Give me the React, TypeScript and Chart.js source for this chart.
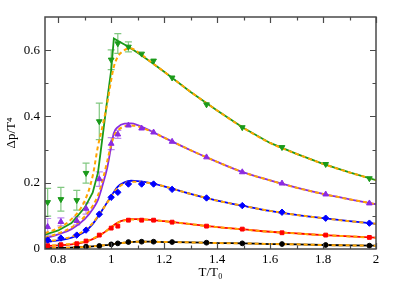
import React, { useEffect, useRef } from "react";
import { Chart, registerables } from "chart.js";

Chart.register(...registerables);

// ---- data ----
const tPoints = [0.76, 0.81, 0.87, 0.905, 0.955, 1.0, 1.025, 1.065, 1.115, 1.16, 1.23, 1.36, 1.495, 1.645, 1.81, 1.975];

const greenPts = [0.141, 0.150, 0.147, 0.229, 0.385, 0.571, 0.620, 0.610, 0.589, 0.568, 0.517, 0.436, 0.367, 0.307, 0.256, 0.213];
const greenErr = [0.042, 0.036, 0.030, 0.030, 0.055, 0.030, 0.030, 0.015, 0.007, 0.005, 0.005, 0.004, 0.004, 0.004, 0.004, 0.004];
const purplePts = [0.067, 0.082, 0.085, 0.122, 0.211, 0.318, 0.346, 0.373, 0.364, 0.352, 0.324, 0.277, 0.232, 0.198, 0.165, 0.138];
const purpleErr = [0.025, 0.012, 0.012, 0.017, 0.022, 0.018, 0.012, 0.006, 0.004, 0.004, 0.003, 0.003, 0.003, 0.003, 0.003, 0.003];
const bluePts = [0.027, 0.033, 0.042, 0.057, 0.105, 0.156, 0.171, 0.196, 0.196, 0.196, 0.180, 0.154, 0.131, 0.111, 0.093, 0.078];
const redPts = [0.010, 0.013, 0.016, 0.024, 0.042, 0.063, 0.069, 0.087, 0.087, 0.087, 0.081, 0.069, 0.060, 0.049, 0.042, 0.035];
const blackPts = [0.003, 0.003, 0.004, 0.007, 0.009, 0.014, 0.017, 0.021, 0.022, 0.022, 0.021, 0.019, 0.017, 0.015, 0.012, 0.010];

const tCurve = [0.75, 0.8, 0.85, 0.9, 0.93, 0.95, 0.97, 0.985, 1.0, 1.01, 1.025, 1.05, 1.075, 1.1, 1.15, 1.2, 1.3, 1.4, 1.5, 1.6, 1.7, 1.8, 1.9, 2.0];

const greenFit = [0.043, 0.056, 0.078, 0.125, 0.17, 0.23, 0.355, 0.45, 0.54, 0.635, 0.628, 0.617, 0.605, 0.592, 0.564, 0.535, 0.474, 0.418, 0.365, 0.32, 0.287, 0.257, 0.231, 0.208];
const greenModel = [0.048, 0.063, 0.09, 0.145, 0.22, 0.31, 0.38, 0.44, 0.51, 0.55, 0.58, 0.60, 0.605, 0.595, 0.564, 0.535, 0.474, 0.418, 0.365, 0.32, 0.287, 0.257, 0.231, 0.208];
const purpleFit = [0.032, 0.044, 0.06, 0.09, 0.12, 0.148, 0.2, 0.245, 0.31, 0.35, 0.368, 0.378, 0.379, 0.374, 0.356, 0.336, 0.298, 0.263, 0.231, 0.207, 0.185, 0.166, 0.15, 0.135];
const purpleModel = [0.034, 0.047, 0.065, 0.098, 0.13, 0.162, 0.215, 0.265, 0.315, 0.34, 0.358, 0.37, 0.373, 0.37, 0.355, 0.336, 0.298, 0.263, 0.231, 0.207, 0.185, 0.166, 0.15, 0.135];
const blueFit = [0.021, 0.026, 0.034, 0.052, 0.075, 0.097, 0.122, 0.141, 0.16, 0.172, 0.188, 0.201, 0.206, 0.205, 0.199, 0.189, 0.166, 0.146, 0.13, 0.115, 0.103, 0.093, 0.084, 0.076];
const blueModel = [0.022, 0.028, 0.037, 0.056, 0.078, 0.099, 0.122, 0.14, 0.158, 0.17, 0.184, 0.198, 0.203, 0.203, 0.198, 0.189, 0.166, 0.146, 0.13, 0.115, 0.103, 0.093, 0.084, 0.076];
const redFit = [0.009, 0.011, 0.014, 0.021, 0.03, 0.038, 0.048, 0.057, 0.066, 0.072, 0.08, 0.087, 0.09, 0.09, 0.088, 0.084, 0.075, 0.066, 0.059, 0.052, 0.047, 0.042, 0.038, 0.034];
const redModel = [0.010, 0.012, 0.016, 0.023, 0.031, 0.039, 0.048, 0.056, 0.065, 0.071, 0.079, 0.086, 0.089, 0.089, 0.088, 0.084, 0.075, 0.066, 0.059, 0.052, 0.047, 0.042, 0.038, 0.034];
const blackFit = [0.002, 0.003, 0.004, 0.006, 0.008, 0.009, 0.011, 0.012, 0.014, 0.015, 0.017, 0.019, 0.021, 0.022, 0.022, 0.021, 0.02, 0.018, 0.017, 0.015, 0.014, 0.012, 0.011, 0.010];
const blackModel = [0.002, 0.003, 0.004, 0.006, 0.008, 0.009, 0.011, 0.012, 0.014, 0.015, 0.017, 0.019, 0.021, 0.022, 0.022, 0.021, 0.02, 0.018, 0.017, 0.015, 0.014, 0.012, 0.011, 0.010];

const xMajorTicks = [0.8, 1.0, 1.2, 1.4, 1.6, 1.8, 2.0];
const xMinorTicks = [0.9, 1.1, 1.3, 1.5, 1.7, 1.9];
const yMajorTicks = [0, 0.2, 0.4, 0.6];
const yMinorTicks = [0.1, 0.3, 0.5];

const GREEN = "#1a9a1a";
const PURPLE = "#8a2be2";
const BLUE = "#0000ff";
const RED = "#ff0000";
const BLACK = "#000000";
const ORANGE = "#ffa500";
const FONT = "'Liberation Serif', 'Times New Roman', serif";

const zip = (xs: number[], ys: number[]) => xs.map((x, i) => ({ x, y: ys[i] }));

const errorSeries = [
  { vals: greenPts, errs: greenErr, color: "rgba(26,154,26,0.55)" },
  { vals: purplePts, errs: purpleErr, color: "rgba(138,43,226,0.55)" },
];

const errorBarPlugin = {
  id: "errbars",
  beforeDatasetsDraw(chart: any) {
    const { ctx, chartArea, scales } = chart;
    const xs = scales.x, ys = scales.y;
    ctx.save();
    ctx.beginPath();
    ctx.rect(chartArea.left, chartArea.top, chartArea.right - chartArea.left, chartArea.bottom - chartArea.top);
    ctx.clip();
    ctx.lineWidth = 1.2;
    for (const s of errorSeries) {
      ctx.strokeStyle = s.color;
      s.vals.forEach((v, i) => {
        const e = s.errs[i];
        if (e < 0.008) return;
        const px = xs.getPixelForValue(tPoints[i]);
        const pt = ys.getPixelForValue(v + e);
        const pb = ys.getPixelForValue(v - e);
        ctx.beginPath();
        ctx.moveTo(px, pt); ctx.lineTo(px, pb);
        ctx.moveTo(px - 3.5, pt); ctx.lineTo(px + 3.5, pt);
        ctx.moveTo(px - 3.5, pb); ctx.lineTo(px + 3.5, pb);
        ctx.stroke();
      });
    }
    ctx.restore();
  },
};

const framePlugin = {
  id: "frame",
  afterDraw(chart: any) {
    const { ctx, chartArea, scales } = chart;
    const { left, right, top, bottom } = chartArea;
    ctx.save();
    ctx.strokeStyle = "#4a4a4a";
    ctx.lineWidth = 1.5;
    ctx.strokeRect(left, top, right - left, bottom - top);
    ctx.lineWidth = 1.2;
    const drawX = (v: number, len: number) => {
      const px = Math.round(scales.x.getPixelForValue(v)) + 0.5;
      ctx.beginPath();
      ctx.moveTo(px, bottom); ctx.lineTo(px, bottom - len);
      ctx.moveTo(px, top); ctx.lineTo(px, top + len);
      ctx.stroke();
    };
    const drawY = (v: number, len: number) => {
      const py = Math.round(scales.y.getPixelForValue(v)) + 0.5;
      ctx.beginPath();
      ctx.moveTo(left, py); ctx.lineTo(left + len, py);
      ctx.moveTo(right, py); ctx.lineTo(right - len, py);
      ctx.stroke();
    };
    xMajorTicks.forEach((v) => drawX(v, 6));
    xMinorTicks.forEach((v) => drawX(v, 3.5));
    yMajorTicks.forEach((v) => v > 0 && drawY(v, 6));
    yMinorTicks.forEach((v) => drawY(v, 3.5));
    ctx.restore();
  },
};

const pointSet = (vals: number[], color: string, style: string, r: number, rot = 0) => ({
  data: zip(tPoints, vals),
  showLine: false,
  pointStyle: style,
  pointRotation: rot,
  pointRadius: r,
  pointBackgroundColor: color,
  pointBorderColor: color,
  pointBorderWidth: 1,
});

const lineSet = (vals: number[], color: string, dashed: boolean, tension: number) => ({
  data: zip(tCurve, vals),
  showLine: true,
  borderColor: color,
  borderWidth: dashed ? 2 : 1.8,
  borderDash: dashed ? [4, 3] : [],
  pointRadius: 0,
  tension,
  cubicInterpolationMode: tension > 0 ? "monotone" : "default",
  fill: false,
});

export default function App() {
  const ref = useRef<HTMLCanvasElement>(null);
  useEffect(() => {
    if (!ref.current) return;
    const chart = new Chart(ref.current, {
      type: "scatter",
      data: {
        datasets: [
          pointSet(greenPts, GREEN, "triangle", 3.3, 180),
          pointSet(purplePts, PURPLE, "triangle", 3.3),
          pointSet(bluePts, BLUE, "rectRot", 3.2),
          pointSet(redPts, RED, "rect", 2.7),
          pointSet(blackPts, BLACK, "circle", 2.4),
          lineSet(greenModel, ORANGE, true, 0.4),
          lineSet(purpleModel, ORANGE, true, 0.4),
          lineSet(blueModel, ORANGE, true, 0.4),
          lineSet(redModel, ORANGE, true, 0.4),
          lineSet(blackModel, ORANGE, true, 0.4),
          lineSet(greenFit, GREEN, false, 0),
          lineSet(purpleFit, PURPLE, false, 0.4),
          lineSet(blueFit, BLUE, false, 0.4),
          lineSet(redFit, RED, false, 0.4),
          lineSet(blackFit, BLACK, false, 0.4),
        ] as any,
      },
      options: {
        responsive: false,
        animation: false,
        layout: { padding: { top: 17, right: 23, left: 0, bottom: 0 } },
        plugins: { legend: { display: false }, tooltip: { enabled: false } },
        scales: {
          x: {
            type: "linear",
            min: 0.75,
            max: 2,
            grid: { display: false, drawTicks: false },
            border: { display: false },
            afterBuildTicks: (s: any) => { s.ticks = xMajorTicks.map((v) => ({ value: v })); },
            afterFit: (s: any) => { s.height = 37; },
            ticks: {
              color: "#000",
              padding: 3,
              maxRotation: 0,
              autoSkip: false,
              font: { family: FONT, size: 13 },
              callback: (v: any) => String(Math.round(Number(v) * 10) / 10),
            },
            title: {
              display: true,
              text: "T/T₀",
              color: "#000",
              font: { family: FONT, size: 13 },
              padding: { top: 0, bottom: 6 },
            },
          },
          y: {
            type: "linear",
            min: 0,
            max: 0.7,
            grid: { display: false, drawTicks: false },
            border: { display: false },
            afterBuildTicks: (s: any) => { s.ticks = yMajorTicks.map((v) => ({ value: v })); },
            afterFit: (s: any) => { s.width = 45; },
            ticks: {
              color: "#000",
              padding: 5,
              autoSkip: false,
              font: { family: FONT, size: 13 },
              callback: (v: any) => String(Math.round(Number(v) * 10) / 10),
            },
            title: {
              display: true,
              text: "Δp/T⁴",
              color: "#000",
              font: { family: FONT, size: 13 },
              padding: { top: 4, bottom: 0 },
            },
          },
        },
      },
      plugins: [errorBarPlugin, framePlugin],
    });
    return () => chart.destroy();
  }, []);
  return (
    <div style={{ position: "fixed", left: 0, top: 0, width: 399, height: 286, background: "#fff" }}>
      <canvas ref={ref} width={399} height={286} />
    </div>
  );
}
